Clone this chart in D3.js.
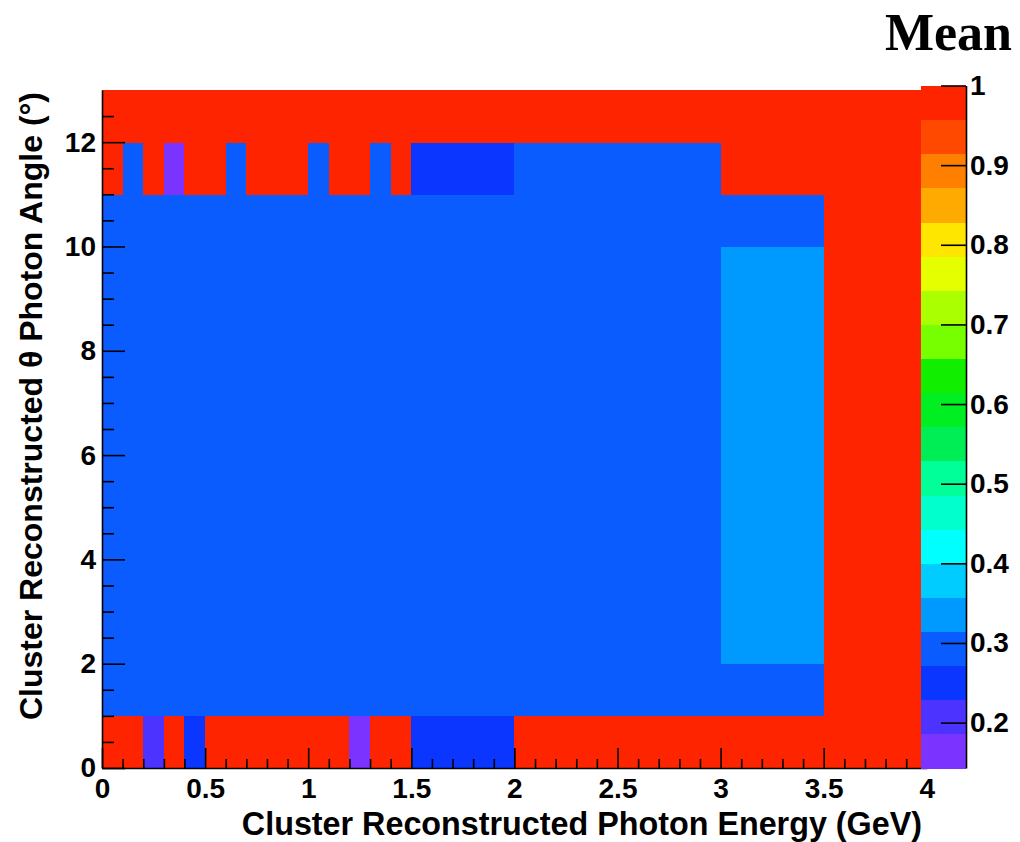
<!DOCTYPE html>
<html>
<head>
<meta charset="utf-8">
<script src="https://cdn.jsdelivr.net/npm/d3@7"></script>
<style>
  body { margin: 0; background: #fff; }
  svg text { font-family: "Liberation Sans", Arial, Helvetica, sans-serif; font-weight: bold; fill: #000; }
</style>
</head>
<body>
<svg id="chart" width="1020" height="842"></svg>
<script>
// Bin edges: photon energy (GeV), 0.1 GeV bins
const energyEdges = [0.0, 0.1, 0.2, 0.3, 0.4, 0.5, 0.6, 0.7, 0.8, 0.9, 1.0,
  1.1, 1.2, 1.3, 1.4, 1.5, 1.6, 1.7, 1.8, 1.9, 2.0,
  2.1, 2.2, 2.3, 2.4, 2.5, 2.6, 2.7, 2.8, 2.9, 3.0,
  3.1, 3.2, 3.3, 3.4, 3.5, 3.6, 3.7, 3.8, 3.9, 4.0];
// Bin edges: theta angle (degrees), 1 degree bins
const angleEdges = [0, 1, 2, 3, 4, 5, 6, 7, 8, 9, 10, 11, 12, 13];

// Mean per cell; one row per angle bin, starting at 0-1 degrees
const meanValues = [
  [1, 1, 0.2, 1, 0.25, 1, 1, 1, 1, 1, 1, 1, 0.143, 1, 1, 0.25, 0.25, 0.25, 0.25, 0.25, 1, 1, 1, 1, 1, 1, 1, 1, 1, 1, 1, 1, 1, 1, 1, 1, 1, 1, 1, 1],
  [0.29, 0.29, 0.29, 0.29, 0.29, 0.29, 0.29, 0.29, 0.29, 0.29, 0.29, 0.29, 0.29, 0.29, 0.29, 0.29, 0.29, 0.29, 0.29, 0.29, 0.29, 0.29, 0.29, 0.29, 0.29, 0.29, 0.29, 0.29, 0.29, 0.29, 0.29, 0.29, 0.29, 0.29, 0.29, 1, 1, 1, 1, 1],
  [0.29, 0.29, 0.29, 0.29, 0.29, 0.29, 0.29, 0.29, 0.29, 0.29, 0.29, 0.29, 0.29, 0.29, 0.29, 0.29, 0.29, 0.29, 0.29, 0.29, 0.29, 0.29, 0.29, 0.29, 0.29, 0.29, 0.29, 0.29, 0.29, 0.29, 0.33, 0.33, 0.33, 0.33, 0.33, 1, 1, 1, 1, 1],
  [0.29, 0.29, 0.29, 0.29, 0.29, 0.29, 0.29, 0.29, 0.29, 0.29, 0.29, 0.29, 0.29, 0.29, 0.29, 0.29, 0.29, 0.29, 0.29, 0.29, 0.29, 0.29, 0.29, 0.29, 0.29, 0.29, 0.29, 0.29, 0.29, 0.29, 0.33, 0.33, 0.33, 0.33, 0.33, 1, 1, 1, 1, 1],
  [0.29, 0.29, 0.29, 0.29, 0.29, 0.29, 0.29, 0.29, 0.29, 0.29, 0.29, 0.29, 0.29, 0.29, 0.29, 0.29, 0.29, 0.29, 0.29, 0.29, 0.29, 0.29, 0.29, 0.29, 0.29, 0.29, 0.29, 0.29, 0.29, 0.29, 0.33, 0.33, 0.33, 0.33, 0.33, 1, 1, 1, 1, 1],
  [0.29, 0.29, 0.29, 0.29, 0.29, 0.29, 0.29, 0.29, 0.29, 0.29, 0.29, 0.29, 0.29, 0.29, 0.29, 0.29, 0.29, 0.29, 0.29, 0.29, 0.29, 0.29, 0.29, 0.29, 0.29, 0.29, 0.29, 0.29, 0.29, 0.29, 0.33, 0.33, 0.33, 0.33, 0.33, 1, 1, 1, 1, 1],
  [0.29, 0.29, 0.29, 0.29, 0.29, 0.29, 0.29, 0.29, 0.29, 0.29, 0.29, 0.29, 0.29, 0.29, 0.29, 0.29, 0.29, 0.29, 0.29, 0.29, 0.29, 0.29, 0.29, 0.29, 0.29, 0.29, 0.29, 0.29, 0.29, 0.29, 0.33, 0.33, 0.33, 0.33, 0.33, 1, 1, 1, 1, 1],
  [0.29, 0.29, 0.29, 0.29, 0.29, 0.29, 0.29, 0.29, 0.29, 0.29, 0.29, 0.29, 0.29, 0.29, 0.29, 0.29, 0.29, 0.29, 0.29, 0.29, 0.29, 0.29, 0.29, 0.29, 0.29, 0.29, 0.29, 0.29, 0.29, 0.29, 0.33, 0.33, 0.33, 0.33, 0.33, 1, 1, 1, 1, 1],
  [0.29, 0.29, 0.29, 0.29, 0.29, 0.29, 0.29, 0.29, 0.29, 0.29, 0.29, 0.29, 0.29, 0.29, 0.29, 0.29, 0.29, 0.29, 0.29, 0.29, 0.29, 0.29, 0.29, 0.29, 0.29, 0.29, 0.29, 0.29, 0.29, 0.29, 0.33, 0.33, 0.33, 0.33, 0.33, 1, 1, 1, 1, 1],
  [0.29, 0.29, 0.29, 0.29, 0.29, 0.29, 0.29, 0.29, 0.29, 0.29, 0.29, 0.29, 0.29, 0.29, 0.29, 0.29, 0.29, 0.29, 0.29, 0.29, 0.29, 0.29, 0.29, 0.29, 0.29, 0.29, 0.29, 0.29, 0.29, 0.29, 0.33, 0.33, 0.33, 0.33, 0.33, 1, 1, 1, 1, 1],
  [0.29, 0.29, 0.29, 0.29, 0.29, 0.29, 0.29, 0.29, 0.29, 0.29, 0.29, 0.29, 0.29, 0.29, 0.29, 0.29, 0.29, 0.29, 0.29, 0.29, 0.29, 0.29, 0.29, 0.29, 0.29, 0.29, 0.29, 0.29, 0.29, 0.29, 0.29, 0.29, 0.29, 0.29, 0.29, 1, 1, 1, 1, 1],
  [1, 0.29, 1, 0.143, 1, 1, 0.29, 1, 1, 1, 0.29, 1, 1, 0.29, 1, 0.25, 0.25, 0.25, 0.25, 0.25, 0.29, 0.29, 0.29, 0.29, 0.29, 0.29, 0.29, 0.29, 0.29, 0.29, 1, 1, 1, 1, 1, 1, 1, 1, 1, 1],
  [1, 1, 1, 1, 1, 1, 1, 1, 1, 1, 1, 1, 1, 1, 1, 1, 1, 1, 1, 1, 1, 1, 1, 1, 1, 1, 1, 1, 1, 1, 1, 1, 1, 1, 1, 1, 1, 1, 1, 1]
];

// 20-level palette, lowest contour first
const paletteColors = ["#7b33ff", "#4d33ff", "#0a36ff", "#0a5cff", "#009aff",
  "#00ccff", "#00ffff", "#00ffcc", "#00ff99", "#00ee55",
  "#00ee22", "#11ee00", "#77ff00", "#aaff00", "#e6ff00",
  "#ffe600", "#ffaa00", "#ff8000", "#ff4800", "#ff2400"];

const energyTicks = [0, 0.5, 1, 1.5, 2, 2.5, 3, 3.5, 4];
const energyTickLabels = ["0", "0.5", "1", "1.5", "2", "2.5", "3", "3.5", "4"];
const angleTicks = [0, 2, 4, 6, 8, 10, 12];
const angleMinorTicks = [0.5, 1, 1.5, 2.5, 3, 3.5, 4.5, 5, 5.5, 6.5, 7, 7.5, 8.5, 9, 9.5, 10.5, 11, 11.5, 12.5];
const meanTicks = [0.2, 0.3, 0.4, 0.5, 0.6, 0.7, 0.8, 0.9, 1];
const meanTickLabels = ["0.2", "0.3", "0.4", "0.5", "0.6", "0.7", "0.8", "0.9", "1"];

const svg = d3.select("#chart");

const x = d3.scaleLinear().domain([0, 4]).range([102, 926.8]);
const y = d3.scaleLinear().domain([0, 13]).range([768, 90]);

const allValues = meanValues.flat();
const zMin = d3.min(allValues);
const zMax = d3.max(allValues);
const color = d3.scaleQuantize().domain([zMin, zMax]).range(paletteColors);

// Histogram cells
const cells = [];
meanValues.forEach((row, r) => {
  row.forEach((v, c) => cells.push({ r, c, v }));
});
svg.append("g")
  .attr("shape-rendering", "crispEdges")
  .selectAll("rect")
  .data(cells)
  .join("rect")
  .attr("x", d => x(energyEdges[d.c]))
  .attr("y", d => y(angleEdges[d.r + 1]))
  .attr("width", d => x(energyEdges[d.c + 1]) - x(energyEdges[d.c]) + 0.6)
  .attr("height", d => y(angleEdges[d.r]) - y(angleEdges[d.r + 1]) + 0.6)
  .attr("fill", d => color(d.v));

function styleAxis(g) {
  g.selectAll("path.domain").attr("stroke", "#000").attr("stroke-width", 1.6);
  g.selectAll(".tick line").attr("stroke", "#000").attr("stroke-width", 1.6);
  g.selectAll("text").attr("font-size", 28).attr("font-family", null).attr("fill", "#000");
}

// X axis: minor ticks every 0.1, major every 0.5
svg.append("g")
  .attr("transform", "translate(0,768)")
  .call(d3.axisBottom(x).tickValues(energyEdges.filter((e, i) => i % 5 !== 0)).tickSize(-9).tickFormat(""))
  .call(g => g.select(".domain").remove())
  .call(styleAxis);
svg.append("g")
  .attr("transform", "translate(0,768)")
  .call(d3.axisBottom(x).tickValues(energyTicks).tickSize(-20).tickSizeOuter(0).tickPadding(10)
    .tickFormat((d, i) => energyTickLabels[i]))
  .call(styleAxis);

// Y axis: minor ticks every 0.5 degree, major every 2
svg.append("g")
  .attr("transform", "translate(102,0)")
  .call(d3.axisLeft(y).tickValues(angleMinorTicks).tickSize(-12).tickFormat(""))
  .call(g => g.select(".domain").remove())
  .call(styleAxis);
svg.append("g")
  .attr("transform", "translate(102,0)")
  .call(d3.axisLeft(y).tickValues(angleTicks).tickSize(-23).tickSizeOuter(0).tickPadding(6))
  .call(styleAxis);

// Colour palette bar
const zScale = d3.scaleLinear().domain([zMin, zMax]).range([768, 85.5]);
const bandEdges = [zMin, ...color.thresholds(), zMax];
svg.append("g")
  .attr("shape-rendering", "crispEdges")
  .selectAll("rect")
  .data(paletteColors)
  .join("rect")
  .attr("x", 921)
  .attr("width", 45)
  .attr("y", (d, i) => zScale(bandEdges[i + 1]))
  .attr("height", (d, i) => zScale(bandEdges[i]) - zScale(bandEdges[i + 1]) + 0.6)
  .attr("fill", d => d);

svg.append("g")
  .attr("transform", "translate(966,0)")
  .call(d3.axisRight(zScale).tickValues(meanTicks).tickSize(-25).tickSizeOuter(0).tickPadding(4)
    .tickFormat((d, i) => meanTickLabels[i]))
  .call(styleAxis);

// Axis titles
svg.append("text")
  .attr("x", 922).attr("y", 835)
  .attr("text-anchor", "end")
  .attr("font-size", 32.3)
  .text("Cluster Reconstructed Photon Energy (GeV)");

svg.append("text")
  .attr("transform", "translate(42,92) rotate(-90)")
  .attr("text-anchor", "end")
  .attr("font-size", 32)
  .text("Cluster Reconstructed \u03b8 Photon Angle (\u00b0)");

// Title
svg.append("text")
  .attr("x", 1012).attr("y", 50)
  .attr("text-anchor", "end")
  .attr("font-size", 52)
  .style("font-family", "'Liberation Serif', 'Times New Roman', serif")
  .text("Mean");
</script>
</body>
</html>
